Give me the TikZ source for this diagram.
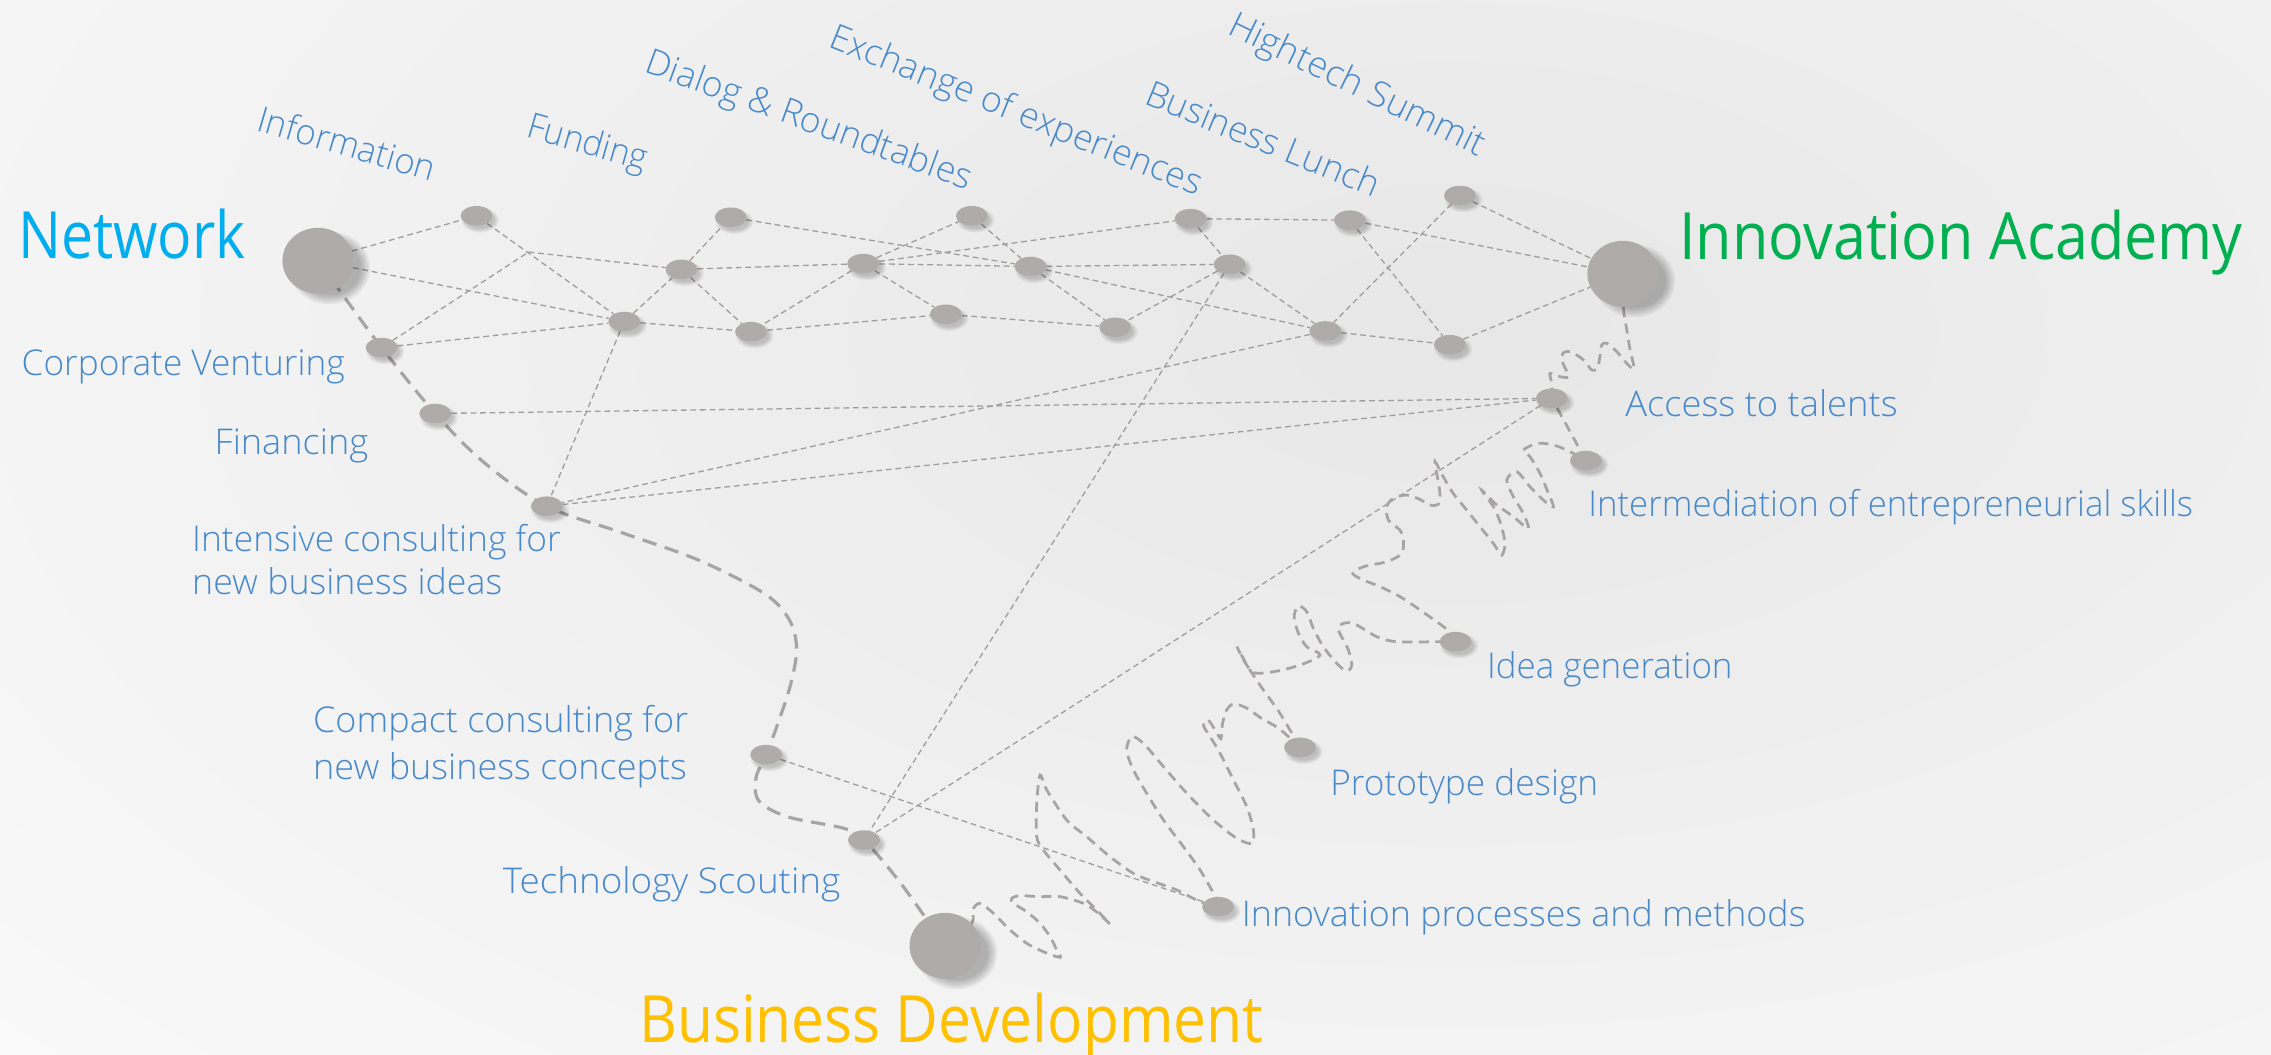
\documentclass[tikz,border=0pt]{standalone}
\usepackage{fontspec}
\setmainfont{Open Sans}
\newfontfamily\lightfont{Open Sans Light}
\usetikzlibrary{shapes.geometric}
\pgfdeclarelayer{back}
\pgfdeclarelayer{edges}
\pgfdeclarelayer{shadow}
\pgfsetlayers{back,edges,shadow,main}
\definecolor{nodegray}{RGB}{175,171,170}
\definecolor{thingray}{RGB}{160,157,157}
\definecolor{thickgray}{RGB}{168,164,164}
\definecolor{labelblue}{RGB}{72,137,202}
\definecolor{netcyan}{RGB}{0,174,239}
\definecolor{iagreen}{RGB}{0,176,80}
\definecolor{bdgold}{RGB}{255,192,0}
\definecolor{bgmid}{RGB}{231,231,231}
\newcommand\fitw[2]{\resizebox{#1pt}{\height}{#2}}
\begin{document}
\begin{tikzpicture}[x=1pt,y=-1pt,
  sn/.style={ellipse, fill=nodegray, minimum width=22pt, minimum height=13.5pt, inner sep=0pt},
  bn/.style={ellipse, fill=nodegray, minimum width=49pt, minimum height=45.5pt, inner sep=0pt},
  shd/.style={fill=black, opacity=0.05},
  thinln/.style={draw=thingray, line width=0.9pt, dash pattern=on 4pt off 2.6pt},
  wig/.style={draw=thickgray, line width=1.9pt, dash pattern=on 7pt off 4.5pt},
  mainpath/.style={draw=thickgray, line width=2.2pt, dash pattern=on 10pt off 6pt},
  lbl/.style={text=labelblue, font=\lightfont\fontsize{24.5}{29}\selectfont, inner sep=0pt, anchor=base west},
  head/.style={font=\fontsize{45}{50}\selectfont, inner sep=0pt, anchor=base west}]
\useasboundingbox (0,0) rectangle (1568,728);
\begin{pgfonlayer}{back}
\fill[white] (0,0) rectangle (1568,728);
\begin{scope}
\clip (0,0) rectangle (1568,728);
\shade[inner color=bgmid, outer color=white] (1000,230) ellipse [x radius=1800, y radius=1000];
\end{scope}
\end{pgfonlayer}

% big nodes
\node[bn] (N) at (219.5,180) {};
\node[bn] (IA) at (1120.5,189) {};
\node[bn] (BD) at (652.5,653) {};
% small nodes
\node[sn] (n1) at (329,149) {};
\node[sn] (n2) at (504.5,150) {};
\node[sn] (n3) at (671,149) {};
\node[sn] (n4) at (822,151) {};
\node[sn] (n5) at (932,152) {};
\node[sn] (n6) at (1008,135) {};
\node[sn] (n7) at (470.5,186) {};
\node[sn] (n8) at (596,182) {};
\node[sn] (n9) at (711.5,184) {};
\node[sn] (n10) at (849,182.5) {};
\node[sn] (n11) at (431,222) {};
\node[sn] (n12) at (518.5,229) {};
\node[sn] (n13) at (653,217) {};
\node[sn] (n14) at (770,226) {};
\node[sn] (n15) at (915,228.5) {};
\node[sn] (n16) at (1001,238) {};
\node[sn] (n17) at (263.5,240) {};
\node[sn] (n18) at (300.5,285.5) {};
\node[sn] (n19) at (377.5,349.5) {};
\node[sn] (n20) at (1071.4,275) {};
\node[sn] (n21) at (1095,318) {};
\node[sn] (n22) at (1005,443) {};
\node[sn] (n23) at (897.6,516) {};
\node[sn] (n24) at (841,626) {};
\node[sn] (n25) at (529,521) {};
\node[sn] (n26) at (596.5,580) {};
\coordinate (P) at (365,174);

% soft shadows
\begin{pgfonlayer}{shadow}
\foreach \nd in {n1,n2,n3,n4,n5,n6,n7,n8,n9,n10,n11,n12,n13,n14,n15,n16,n17,n18,n19,n20,n21,n22,n23,n24,n25,n26}
  \foreach \rx/\ry in {13/8.5, 12/7.6, 11/6.8, 10/6}
    \fill[shd] ([xshift=2.5pt,yshift=-3pt]\nd.center) ellipse [x radius=\rx, y radius=\ry];
\foreach \nd in {N,IA,BD}
  \foreach \rx/\ry in {28/25, 26.5/23.5, 25/22, 23.5/20.5, 22/19}
    \fill[shd, opacity=0.06] ([xshift=8pt,yshift=-5pt]\nd.center) ellipse [x radius=\rx, y radius=\ry];
\end{pgfonlayer}

\begin{pgfonlayer}{edges}
\foreach \a/\b in {N/n1, n1/n11, N/n11, n17/P, P/n7, n17/n11, n11/n7, n11/n12, n11/n19,
  n7/n2, n7/n8, n7/n12, n2/n9, n8/n3, n8/n4, n8/n9, n8/n12, n8/n13, n3/n9, n9/n10,
  n9/n14, n9/n15, n12/n13, n13/n14, n4/n5, n4/n10, n10/n14, n10/n15, n10/n26,
  n5/IA, n5/n16, n6/n15, n6/IA, n15/n16, n16/IA, n15/n19, n18/n20, n19/n20,
  n20/n26, n25/n24}
  \draw[thinln] (\a) -- (\b);
% main path Network -> Business Development
\draw[mainpath] plot[smooth, tension=0.55] coordinates {(N.center) (234,200) (n17.center) (n18.center) (335,320) (n19.center) (430,368) (483,387) (528,410) (545,428) (550,448) (546,472) (538,497) (n25.center) (522,537) (524,553) (544,564) (583,572) (n26.center) (622,610) (BD.center)};
% squiggles
\draw[wig] plot[smooth, tension=0.5] coordinates {(BD.center) (670.9,637.5) (671.5,628.3) (676.6,623.7) (685.9,630.6) (697.4,642.1) (708.9,651.3) (720.4,657.1) (731.9,661) (729.6,655.9) (725,646.7) (718.1,637.5) (708.9,629.5) (699.7,623.7) (698.5,620.3) (704.3,618.4) (718.1,619.1) (731.9,619.1) (748,623.7) (758.4,630.6) (766.4,638) (757.2,628.3) (745.7,616.8) (731.9,600.7) (720.4,586.9) (715.8,577.7) (715.8,554.7) (718.1,535.1) (722.7,545.4) (736.5,566.2) (750.3,577.7) (766.4,591.5) (782.5,603) (796.4,608.7) (812.5,614.5) (828.6,622.6) (n24.center)};
\draw[wig] plot[smooth, tension=0.5] coordinates {(n24.center) (839,619) (828.6,600.7) (817.1,584.6) (803.3,566.2) (791.7,547.7) (782.5,531.6) (777.9,517.8) (781.4,508.6) (789.4,513.2) (803.3,529.3) (819.4,547.7) (837.8,566.2) (853.9,578.8) (864.3,582.3) (865.4,573.1) (860.8,557) (851.6,538.5) (842.4,520.1) (835.5,508.6) (831,501) (834,497) (839,504) (843,510) (844,500) (847,490) (852,486) (861,489) (871,496) (883,503) (n23.center)};
\draw[wig] plot[smooth, tension=0.5] coordinates {(n23.center) (883.8,492.6) (872,476) (862,461) (854,446.5) (860,458) (866,464.5) (879.2,463.8) (897.6,459.2) (911.4,452.3) (902.2,446.5) (896.5,437.3) (893.5,425.8) (896.5,418.4) (902.2,422.3) (906.8,433.9) (913.7,446.5) (922.9,458) (929.8,463.3) (933.3,459.2) (931,448.8) (924.1,435) (926.4,430.9) (934.5,430.4) (950.6,439.6) (964.4,443.1) (990.9,443.1) (n22.center)};
\draw[wig] plot[smooth, tension=0.5] coordinates {(n22.center) (1001.2,436.2) (980.5,421.2) (966.7,412) (952.9,405.1) (941.4,400.5) (934,395.9) (941.4,391.3) (957.5,387.8) (967.8,382.1) (969,372) (966.6,366) (958.6,359.1) (957.4,349.9) (962,344.1) (971.2,341.8) (980.4,344.8) (987.3,348.7) (993.1,348) (994.2,340.7) (992.4,329.2) (990.8,318.8) (996.5,329.2) (1003.4,340.7) (1012.7,352.2) (1021.9,363.7) (1031.1,375.2) (1036.8,383.3) (1039.1,375.2) (1036.1,361.4) (1031.1,349.9) (1023,338.4) (1032.2,347.6) (1044.9,356.8) (1055.2,364.9) (1051.8,354.5) (1044.9,343) (1040.3,331.5) (1047.2,325.7) (1056.4,336.1) (1065.6,345.3) (1072.5,349.9) (1069.1,340.7) (1063.3,326.9) (1056.4,315.4) (1051.8,310.8) (1062,306) (1075,308) (1088.6,314.2) (n21.center)};
\draw[wig] plot[smooth, tension=0.5] coordinates {(IA.center) (1120.9,212.9) (1123.2,227.8) (1125.5,241.6) (1128.3,255) (1123.2,250.9) (1116.3,242.8) (1109.4,237) (1105.9,238.2) (1104.8,245.1) (1102.9,254.3) (1099,255.5) (1095.1,250.4) (1091,246.7) (1084.1,242.8) (1079.5,243.5) (1078.3,248.6) (1081.8,256.6) (1082.9,260.5) (1077.2,260.1) (1070.2,257.8) (1071.4,264.7) (n20.center)};
\draw[wig] (n20) -- (n21);
\end{pgfonlayer}

% headings
\node[head, text=netcyan] (tNet) at (12.4,178.5) {\fitw{157}{Network}};
\node[head, text=iagreen] (tIA) at (1159.3,179.5) {\fitw{389}{Innovation Academy}};
\node[head, text=bdgold] (tBD) at (441,720) {\fitw{431}{Business Development}};

% rotated top labels
\node[lbl, rotate=-16.3] (lInfo) at (176,89.8) {\fitw{127}{Information}};
\node[lbl, rotate=-16] (lFund) at (362.5,94.4) {\fitw{85}{Funding}};
\node[lbl, rotate=-20] (lDial) at (444,49.5) {\fitw{238}{Dialog \& Roundtables}};
\node[lbl, rotate=-22] (lExch) at (571,32.2) {\fitw{275}{Exchange of experiences}};
\node[lbl, rotate=-22.3] (lLunch) at (789,71.3) {\fitw{172}{Business Lunch}};
\node[lbl, rotate=-26] (lHigh) at (846.3,23) {\fitw{194}{Hightech Summit}};

% other labels
\node[lbl] (lCV) at (14.8,259) {\fitw{223}{Corporate Venturing}};
\node[lbl] (lFin) at (148,313.5) {\fitw{106}{Financing}};
\node[lbl] (lInt1) at (132.5,381) {\fitw{254.5}{Intensive consulting for}};
\node[lbl] (lInt2) at (132.5,410.8) {\fitw{214}{new business ideas}};
\node[lbl] (lCom1) at (216,506) {\fitw{259}{Compact consulting for}};
\node[lbl] (lCom2) at (216,538) {\fitw{258}{new business concepts}};
\node[lbl] (lTech) at (347,617) {\fitw{233}{Technology Scouting}};
\node[lbl] (lInno) at (857.3,639.8) {\fitw{389}{Innovation processes and methods}};
\node[lbl] (lProt) at (918.3,549) {\fitw{185}{Prototype design}};
\node[lbl] (lIdea) at (1026.5,468.4) {\fitw{169.5}{Idea generation}};
\node[lbl] (lInter) at (1096.4,356.7) {\fitw{417.6}{Intermediation of entrepreneurial skills}};
\node[lbl] (lAcc) at (1122,287.7) {\fitw{188}{Access to talents}};
\end{tikzpicture}
\end{document}
